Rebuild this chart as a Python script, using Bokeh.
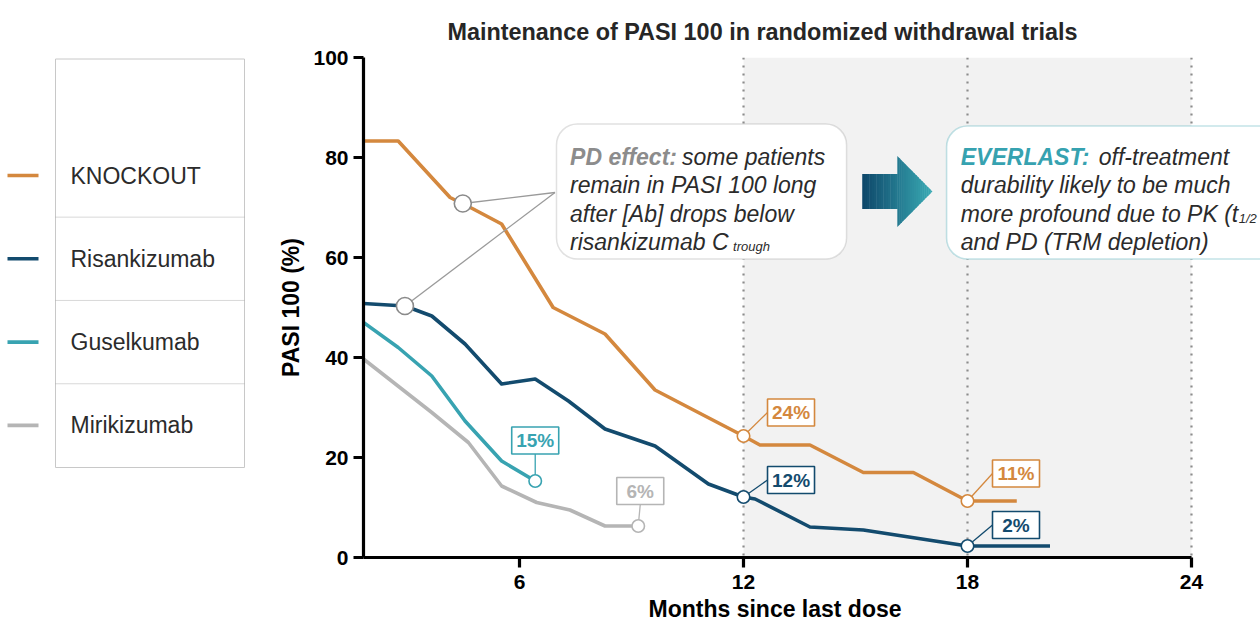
import numpy as np
from bokeh.plotting import figure
from bokeh.models import Range1d, FixedTicker, BoxAnnotation, Span, Label, Title
from bokeh.layouts import row
from bokeh.embed import file_html
from bokeh.resources import INLINE
from bokeh.core.properties import value

# ---------------- data ----------------
title_text = "Maintenance of PASI 100 in randomized withdrawal trials"
x_title = "Months since last dose"
y_title = "PASI 100 (%)"

series_names = ["KNOCKOUT", "Risankizumab", "Guselkumab", "Mirikizumab"]

knockout_months = [1.82, 2.75, 4.14, 4.76, 5.52, 6.90, 8.29, 9.63, 12.0, 12.44, 13.78, 15.21, 16.55, 18.0, 19.32]
knockout_pasi = [83.3, 83.3, 72.0, 69.7, 66.7, 50.0, 44.7, 33.5, 24.3, 22.5, 22.5, 17.0, 17.0, 11.3, 11.3]
risankizumab_months = [1.82, 2.93, 3.65, 4.54, 5.52, 6.42, 7.31, 8.29, 9.63, 11.06, 12.0, 12.31, 13.78, 15.21, 18.0, 20.21]
risankizumab_pasi = [50.8, 50.3, 48.3, 42.7, 34.7, 35.7, 31.3, 25.7, 22.3, 14.7, 12.1, 11.7, 6.1, 5.5, 2.3, 2.3]
guselkumab_months = [1.82, 2.75, 3.65, 4.54, 5.52, 6.42]
guselkumab_pasi = [47.0, 42.0, 36.3, 27.3, 19.3, 15.3]
mirikizumab_months = [1.82, 3.65, 4.63, 5.52, 6.46, 7.35, 8.29, 9.18]
mirikizumab_pasi = [39.7, 29.0, 23.0, 14.3, 11.0, 9.5, 6.3, 6.3]

# call-outs: (series index, point index) and their texts
callout_series = [0, 0, 1, 1, 2, 3]
callout_point = [8, 13, 10, 14, 5, 7]
callout_text = ["24%", "11%", "12%", "2%", "15%", "6%"]

# PD-effect anchor points
pd_months = [4.48, 2.93]
pd_values = [70.8, 50.3]

x_ticks = [6, 12, 18, 24]
y_ticks = [0, 20, 40, 60, 80, 100]

# ---------------- styles / layout ----------------
colors = ["#D4883E", "#134B6E", "#38A3B1", "#B5B5B5"]
FONT_NAME = "Liberation Sans"
FONT = value(FONT_NAME)
FRAME_W, FRAME_H = 897, 500
X0 = 1.82
PPM = 37.33                    # px per month
X1 = X0 + FRAME_W / PPM
PPU = FRAME_H / 100.0          # px per percent
# label box offsets in screen px (dx right, dy up)
callout_dx = [47.5, 48.5, 47.5, 48.5, 0.0, 2.0]
callout_dy = [23.5, 27.5, 17.0, 21.0, 40.5, 35.0]
BOX_W, BOX_H = 47, 27

all_months = [knockout_months, risankizumab_months, guselkumab_months, mirikizumab_months]
all_pasi = [knockout_pasi, risankizumab_pasi, guselkumab_pasi, mirikizumab_pasi]

# ---------------- main figure ----------------
p = figure(width=987, height=624, x_range=Range1d(X0, X1), y_range=Range1d(0, 100),
           toolbar_location=None, output_backend="svg",
           min_border_left=90, min_border_right=0, min_border_top=57, min_border_bottom=67)
p.outline_line_color = None
p.xgrid.visible = False
p.ygrid.visible = False
p.background_fill_color = "white"
p.border_fill_color = "white"

p.title.text = title_text
p.title.align = "left"
p.title.offset = 84
p.title.standoff = 25
p.title.text_font = FONT_NAME
p.title.text_font_style = "bold"
p.title.text_font_size = "23.4px"
p.title.text_color = "#262626"

# shaded region and dotted guides
p.add_layout(BoxAnnotation(left=12, right=24, fill_color="#F2F2F2", fill_alpha=1.0,
                           line_alpha=0, level="underlay"))
for xt in [12, 18, 24]:
    p.add_layout(Span(location=xt, dimension="height", line_color="#8C8C8C",
                      line_width=2.2, line_dash="2 6", level="underlay"))

# data lines
for ms, vs, c in zip(all_months, all_pasi, colors):
    p.line(ms, vs, line_color=c, line_width=3.6, line_join="round")

# PD connectors
pd_tx, pd_ty = 6.95, 73.0
p.segment(x0=pd_months, y0=pd_values, x1=[pd_tx] * 2, y1=[pd_ty] * 2,
          line_color="#9A9A9A", line_width=1.3)
p.scatter(pd_months, pd_values, size=17, marker="circle", fill_color="white",
          line_color="#8A8A8A", line_width=1.6)

# call-out boxes
cx, cy, bx, by, lx, ly, cc = [], [], [], [], [], [], []
for s, i, dx, dy in zip(callout_series, callout_point, callout_dx, callout_dy):
    mx, my = all_months[s][i], all_pasi[s][i]
    cx.append(mx); cy.append(my)
    bxx = mx + dx / PPM
    byy = my + dy / PPU
    bx.append(bxx); by.append(byy)
    if dx > 10:
        lx.append(bxx - (BOX_W / 2) / PPM); ly.append(byy)
    else:
        lx.append(bxx); ly.append(byy - (BOX_H / 2) / PPU)
    cc.append(colors[s])
p.segment(x0=cx, y0=cy, x1=lx, y1=ly, line_color=cc, line_width=1.3)
p.rect(bx, by, width=BOX_W, height=BOX_H, width_units="screen", height_units="screen",
       fill_color="white", line_color=cc, line_width=1.6)
p.text(bx, by, text=callout_text, text_align="center", text_baseline="middle",
       text_font=FONT, text_font_style="bold", text_font_size="19px", text_color=cc)
p.scatter(cx, cy, size=12.5, marker="circle", fill_color="white", line_color=cc, line_width=1.6)

# gradient arrow (sliced)
ax0, abody, atip = 15.18, 16.12, 17.06
amid, bhalf, hhalf = 73.2, 3.5, 7.1
c0 = np.array([14, 71, 106]); c1 = np.array([58, 171, 181])
xs, ys, fc = [], [], []
edges_b = np.linspace(ax0, abody, 16)
edges_h = np.linspace(abody, atip, 18)
def hh(x):
    return hhalf * (atip - x) / (atip - abody)
eps = 0.012
for a, b in zip(edges_b[:-1], edges_b[1:]):
    xs.append([a, b + eps, b + eps, a]); ys.append([amid - bhalf, amid - bhalf, amid + bhalf, amid + bhalf])
for a, b in zip(edges_h[:-1], edges_h[1:]):
    bb = min(b + eps, atip)
    xs.append([a, bb, bb, a]); ys.append([amid - hh(a), amid - hh(bb), amid + hh(bb), amid + hh(a)])
for poly in xs:
    t = ((poly[0] + poly[1]) / 2 - ax0) / (atip - ax0)
    col = (c0 + (c1 - c0) * t).astype(int)
    fc.append("#%02x%02x%02x" % tuple(col))
p.patches(xs, ys, fill_color=fc, line_color=None)

# annotation boxes
p.add_layout(BoxAnnotation(left=6.99, right=14.76, bottom=59.7, top=86.7, fill_color="white",
                           fill_alpha=1.0, line_color="#9B9B9B", line_width=1.5, border_radius=21))
p.add_layout(BoxAnnotation(left=17.44, right=27.5, bottom=59.7, top=86.3, fill_color="white",
                           fill_alpha=1.0, line_color="#3BA7B4", line_width=1.6, border_radius=21))

def lab(x, y, text, style="italic", color="#2B2B2B", size="23px", xo=0, yo=0, align="left"):
    p.add_layout(Label(x=x, y=y, text=text, x_offset=xo, y_offset=yo, text_font=FONT_NAME,
                       text_font_style=style, text_font_size=size, text_color=color,
                       text_align=align, text_baseline="alphabetic"))

base = [80.2, 74.5, 68.8, 63.2]
pdx = 7.353
lab(pdx, base[0], "PD effect:", style="bold italic", color="#8C8C8C")
lab(pdx, base[0], "some patients", xo=112)
lab(pdx, base[1], "remain in PASI 100 long")
lab(pdx, base[2], "after [Ab] drops below")
lab(pdx, base[3], "risankizumab C")
lab(pdx, base[3], "trough", size="13px", xo=163, yo=-5)

evx = 17.82
lab(evx, base[0], "EVERLAST:", style="bold italic", color="#36A2B0")
lab(evx, base[0], "off-treatment", xo=138)
lab(evx, base[1], "durability likely to be much")
lab(evx, base[2], "more profound due to PK (t")
lab(evx, base[2], "1/2", size="13px", xo=278, yo=-5)
lab(evx, base[3], "and PD (TRM depletion)")

# axes
p.xaxis.ticker = FixedTicker(ticks=x_ticks)
p.yaxis.ticker = FixedTicker(ticks=y_ticks)
p.xaxis.bounds = (X0, 24)
for ax in [p.xaxis[0], p.yaxis[0]]:
    ax.axis_line_width = 3.2
    ax.axis_line_color = "black"
    ax.major_tick_line_width = 3.2
    ax.major_tick_line_color = "black"
    ax.major_tick_out = 10
    ax.major_tick_in = 0
    ax.minor_tick_line_color = None
    ax.major_label_text_font = FONT_NAME
    ax.major_label_text_font_style = "bold"
    ax.major_label_text_font_size = "21px"
    ax.major_label_text_color = "black"
p.xaxis.major_label_standoff = 7
p.yaxis.major_label_standoff = 5
p.yaxis.axis_label = y_title
p.yaxis.axis_label_text_font = FONT_NAME
p.yaxis.axis_label_text_font_style = "bold"
p.yaxis.axis_label_text_font_size = "23px"
p.yaxis.axis_label_text_color = "black"
p.yaxis.axis_label_standoff = 6

p.add_layout(Title(text=x_title, align="left", offset=285, standoff=5, text_font=FONT_NAME,
                   text_font_style="bold", text_font_size="23px", text_color="black"), "below")

# ---------------- legend figure (frames of a row are aligned; use the main y scale) ----------------
lg = figure(width=273, height=624, x_range=Range1d(0, 273), y_range=Range1d(0, 100),
            toolbar_location=None, output_backend="svg", x_axis_type=None, y_axis_type=None,
            min_border_left=0, min_border_right=0, min_border_top=57, min_border_bottom=67)
lg.outline_line_color = None
lg.xgrid.visible = False
lg.ygrid.visible = False
n = len(series_names)
LG_TOP, LG_PITCH, LG_L, LG_R = 99.7, 16.66, 55, 244
lg.quad(left=[LG_L], right=[LG_R], top=[LG_TOP], bottom=[18.0],
        fill_color="white", line_color="#C8C8C8", line_width=1)
sep = [76.4 - LG_PITCH * (k + 0.5) for k in range(n - 1)]
lg.segment(x0=[LG_L] * len(sep), x1=[LG_R] * len(sep), y0=sep, y1=sep,
           line_color="#B0B0B0", line_width=1, line_dash="1 1")
rows_y = [76.4 - LG_PITCH * k for k in range(n)]
lg.segment(x0=[7] * n, x1=[38] * n, y0=rows_y, y1=rows_y, line_color=colors, line_width=3.6)
lg.text([70] * n, rows_y, text=series_names, text_font=FONT, text_font_size="23px",
        text_color="#2B2B2B", text_baseline="middle", text_align="left")

layout = row(lg, p)
open("out.html", "w").write(file_html(layout, INLINE))
